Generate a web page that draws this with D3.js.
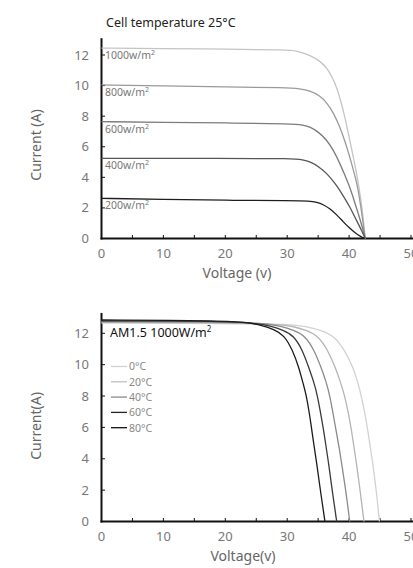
<!DOCTYPE html>
<html><head><meta charset="utf-8">
<script src="https://cdn.jsdelivr.net/npm/d3@7"></script>
<style>body{margin:0;background:#fff}svg{display:block}text{font-family:"Noto Sans",sans-serif}</style>
</head><body><svg id="c" width="413" height="568"></svg>
<script>
// ---- Data: top chart (irradiance), cell temperature 25°C ----
const irrLabels = ["1000w/m", "800w/m", "600w/m", "400w/m", "200w/m"];
const irrColors = ["#c4c4c4", "#9a9a9a", "#7c7c7c", "#555555", "#1e1e1e"];
const irr1000 = [[0,12.45],[10,12.42],[20,12.38],[30,12.33],[31.5,12.28],[33.7,12.0],[35.3,11.6],[36.6,11.1],[37.7,10.2],[38.5,9.27],[39.4,7.8],[40.1,6.44],[40.9,4.9],[41.6,3.4],[42.2,1.7],[42.6,0]];
const irr800  = [[0,10.04],[10,9.98],[20,9.92],[30,9.86],[32,9.8],[33.7,9.68],[35.2,9.35],[36.4,8.9],[37.5,8.2],[38.5,7.31],[39.3,6.4],[40.1,5.35],[40.8,4.3],[41.4,3.4],[42.0,1.8],[42.6,0]];
const irr600  = [[0,7.64],[10,7.6],[20,7.56],[31,7.49],[32.5,7.42],[33.7,7.3],[35.1,6.95],[36.4,6.44],[37.5,5.75],[38.5,4.92],[39.3,4.15],[40.1,3.39],[40.8,2.5],[41.5,1.6],[42.1,0.8],[42.6,0]];
const irr400  = [[0,5.24],[20,5.24],[31,5.23],[32.5,5.15],[33.7,5.02],[35.1,4.7],[36.4,4.26],[37.5,3.72],[38.5,3.17],[39.3,2.62],[40.1,2.08],[40.8,1.5],[41.5,0.95],[42.1,0.45],[42.6,0]];
const irr200  = [[0,2.63],[10,2.55],[20,2.5],[31,2.47],[33.5,2.45],[34.8,2.38],[35.9,2.2],[36.9,1.95],[38.0,1.55],[39.0,1.12],[40.0,0.7],[41.0,0.36],[41.9,0.12],[42.5,0]];
const irrSeries = [irr1000, irr800, irr600, irr400, irr200];

// ---- Data: bottom chart (temperature), AM1.5 1000W/m² ----
const tempLabels = ["0°C", "20°C", "40°C", "60°C", "80°C"];
const tempColors = ["#d2d2d2", "#b4b4b4", "#8a8a8a", "#3a3a3a", "#1a1a1a"];
const legendColors = ["#d0d0d0", "#c0c0c0", "#8a8a8a", "#222222", "#111111"];
const t0  = [[0,12.65],[20,12.63],[30,12.58],[33,12.45],[35.5,12.2],[37.7,11.8],[39.3,10.9],[40.6,9.87],[41.4,8.9],[42.0,7.96],[42.6,6.8],[43.1,5.62],[43.5,4.56],[43.9,3.49],[44.5,1.6],[44.9,0]];
const t20 = [[0,12.7],[20,12.68],[28,12.6],[31,12.45],[33,12.2],[35,11.85],[36.6,10.9],[37.8,9.8],[38.6,8.9],[39.3,8.0],[39.9,6.9],[40.4,5.8],[40.8,4.7],[41.2,3.7],[41.9,1.6],[42.4,0]];
const t40 = [[0,12.75],[20,12.73],[26.5,12.62],[29,12.45],[31,12.2],[32.9,11.85],[34.4,10.9],[35.5,9.8],[36.3,8.9],[36.9,8.0],[37.4,6.9],[37.9,5.8],[38.4,4.7],[38.8,3.7],[39.6,1.6],[40.1,0]];
const t60 = [[0,12.8],[20,12.77],[25,12.65],[27.5,12.45],[29.3,12.2],[31.1,11.85],[32.5,10.9],[33.5,9.8],[34.3,8.9],[34.9,8.0],[35.4,6.9],[35.9,5.8],[36.3,4.7],[36.7,3.7],[37.4,1.6],[38.0,0]];
const t80 = [[0,12.85],[20,12.8],[23.5,12.7],[26,12.5],[27.8,12.25],[29.5,11.9],[30.9,10.9],[31.9,9.8],[32.5,8.9],[33.0,8.2],[33.5,7.1],[33.9,6.05],[34.3,4.9],[34.7,3.92],[35.5,1.58],[36.1,0]];
const tempSeries = [t0, t20, t40, t60, t80];

const xTicks = [0, 10, 20, 30, 40, 50];
const xMinor = [0, 5, 10, 15, 20, 25, 30, 35, 40, 45, 50];
const yTicks = [0, 2, 4, 6, 8, 10, 12];

const svg = d3.select("#c");

function panel(o) {
  const x = d3.scaleLinear().domain([0, 50]).range([101.5, 411]);
  const y = d3.scaleLinear().domain([0, 12]).range([o.y0, o.y12]);
  const g = svg.append("g");
  g.append("line").attr("x1", x(0)).attr("x2", x(0)).attr("y1", y(0) + 1).attr("y2", y(o.yTop))
    .attr("stroke", "#111").attr("stroke-width", 2);
  g.append("line").attr("x1", x(0) - 1).attr("x2", 413).attr("y1", y(0)).attr("y2", y(0))
    .attr("stroke", "#111").attr("stroke-width", 2);
  g.selectAll(".yt").data(yTicks.slice(1)).enter().append("line")
    .attr("x1", x(0)).attr("x2", x(0) + 3.5).attr("y1", d => y(d)).attr("y2", d => y(d))
    .attr("stroke", "#111").attr("stroke-width", 1);
  g.selectAll(".xt").data(xMinor.slice(1)).enter().append("line")
    .attr("x1", d => x(d)).attr("x2", d => x(d)).attr("y1", y(0)).attr("y2", y(0) - 3.5)
    .attr("stroke", "#111").attr("stroke-width", 1);
  g.selectAll(".yl").data(yTicks).enter().append("text")
    .attr("x", 89).attr("y", d => y(d) + 4.5).attr("text-anchor", "end")
    .attr("font-size", 13).attr("fill", "#777").text(d => d);
  g.selectAll(".xl").data(xTicks).enter().append("text")
    .attr("x", d => x(d)).attr("y", y(0) + 19).attr("text-anchor", "middle")
    .attr("font-size", 13).attr("fill", "#777").text(d => d);
  g.append("text").attr("transform", `translate(41,${o.ylabY}) rotate(-90)`)
    .attr("text-anchor", "middle").attr("font-size", 14).attr("fill", "#666").text(o.ylab);
  g.append("text").attr("x", o.xlabX).attr("y", y(0) + 39).attr("text-anchor", "middle")
    .attr("font-size", 14).attr("fill", "#666").text(o.xlab);
  const line = d3.line().x(d => x(d[0])).y(d => y(d[1])).curve(d3.curveBasis);
  o.series.forEach((s, i) => {
    g.append("path").attr("d", line(s)).attr("fill", "none")
      .attr("stroke", o.colors[i]).attr("stroke-width", 1.3);
  });
  return {x, y, g};
}

const topPanel = panel({y0: 238.5, y12: 55, yTop: 13.1, series: irrSeries, colors: irrColors,
  ylab: "Current (A)", ylabY: 145, xlab: "Voltage (v)", xlabX: 237});
svg.append("text").attr("x", 106).attr("y", 27).attr("font-size", 12.5).attr("fill", "#222")
  .text("Cell temperature 25°C");
irrSeries.forEach((s, i) => {
  const t = topPanel.g.append("text").attr("x", 105).attr("y", topPanel.y(s[0][1]) + 11)
    .attr("font-size", 10.5).attr("fill", "#777").text(irrLabels[i]);
  t.append("tspan").attr("font-size", 7).attr("dy", -4).text("2");
});

const botPanel = panel({y0: 521.5, y12: 333.3, yTop: 13.3, series: tempSeries, colors: tempColors,
  ylab: "Current(A)", ylabY: 426, xlab: "Voltage(v)", xlabX: 243});
const tt = svg.append("text").attr("x", 110).attr("y", 337).attr("font-size", 12.5).attr("fill", "#111")
  .text("AM1.5 1000W/m");
tt.append("tspan").attr("font-size", 8).attr("dy", -5).text("2");
tempLabels.forEach((l, i) => {
  const yy = 366.5 + i * 15.3;
  svg.append("line").attr("x1", 111).attr("x2", 127).attr("y1", yy).attr("y2", yy)
    .attr("stroke", legendColors[i]).attr("stroke-width", 1.3);
  svg.append("text").attr("x", 129).attr("y", yy + 3.8).attr("font-size", 10.5)
    .attr("fill", "#888").text(l);
});
</script></body></html>
